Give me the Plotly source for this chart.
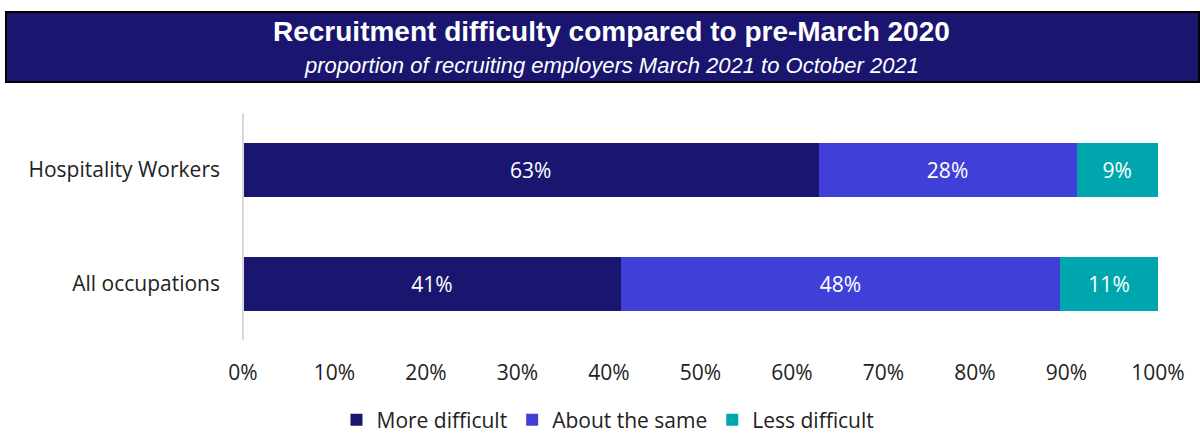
import plotly.graph_objects as go

categories = ["All occupations", "Hospitality Workers"]
series_names = ["More difficult", "About the same", "Less difficult"]
more_difficult = [41.3, 62.9]
about_same = [48.0, 28.2]
less_difficult = [10.7, 8.9]
x_ticks = [0, 10, 20, 30, 40, 50, 60, 70, 80, 90, 100]
x_tick_labels = [f"{v}%" for v in x_ticks]

colors = ["#1A1670", "#4040D8", "#00A6AE"]
values = [more_difficult, about_same, less_difficult]

body_font = "Open Sans, sans-serif"
FS = 21

fig = go.Figure()
for name, vals, col in zip(series_names, values, colors):
    fig.add_trace(go.Bar(
        y=categories, x=vals, name=name, orientation="h",
        marker=dict(color=col, line=dict(width=0)),
        text=vals, texttemplate="%{x:.0f}%", textposition="inside",
        insidetextanchor="middle",
        textfont=dict(color="white", size=FS, family=body_font),
    ))

W, H = 1200, 435
L, R, T, B = 243, 42, 113, 94
pw = W - L - R
ph = H - T - B

def px(x):
    return (x - L) / pw

def py(y):
    return (H - B - y) / ph

fig.update_layout(
    width=W, height=H, barmode="stack", bargap=0.53,
    margin=dict(l=L, r=R, t=T, b=B, autoexpand=False),
    plot_bgcolor="white", paper_bgcolor="white",
    font=dict(family=body_font, size=FS, color="#222222"),
    showlegend=True,
    legend=dict(orientation="h", x=px(608), xanchor="center", y=py(420), yanchor="middle",
                font=dict(size=FS, family=body_font, color="#222222"), traceorder="normal",
                itemwidth=30, tracegroupgap=0),
    xaxis=dict(range=[0, 100], tickvals=x_ticks, ticktext=x_tick_labels, showgrid=False,
               zeroline=False, showline=False, ticks="", ticklabelstandoff=17, automargin=False,
               tickfont=dict(size=FS, family=body_font, color="#222222")),
    yaxis=dict(range=[-0.5, 1.5], showgrid=False, zeroline=False, showline=False, ticks="",
               ticklabelstandoff=22, automargin=False,
               tickfont=dict(size=FS, family=body_font, color="#222222")),
    shapes=[
        dict(type="rect", xref="paper", yref="paper", x0=px(6), x1=px(1199), y0=py(82), y1=py(12),
             fillcolor="#1A1670", line=dict(color="#000000", width=2), layer="above"),
        dict(type="line", xref="paper", yref="paper", x0=0, x1=0, y0=py(340), y1=py(113),
             line=dict(color="#D9D9D9", width=2)),
    ],
    annotations=[
        dict(text="<b>Recruitment difficulty compared to pre-March 2020</b>", xref="paper", yref="paper",
             x=px(611), y=py(32), xanchor="center", yanchor="middle", showarrow=False,
             font=dict(family="Liberation Sans, Arial, sans-serif", size=28, color="white")),
        dict(text="<i>proportion of recruiting employers March 2021 to October 2021</i>", xref="paper", yref="paper",
             x=px(611), y=py(66), xanchor="center", yanchor="middle", showarrow=False,
             font=dict(family="Liberation Sans, Arial, sans-serif", size=22, color="white")),
    ],
)

fig.write_html("out.html")
